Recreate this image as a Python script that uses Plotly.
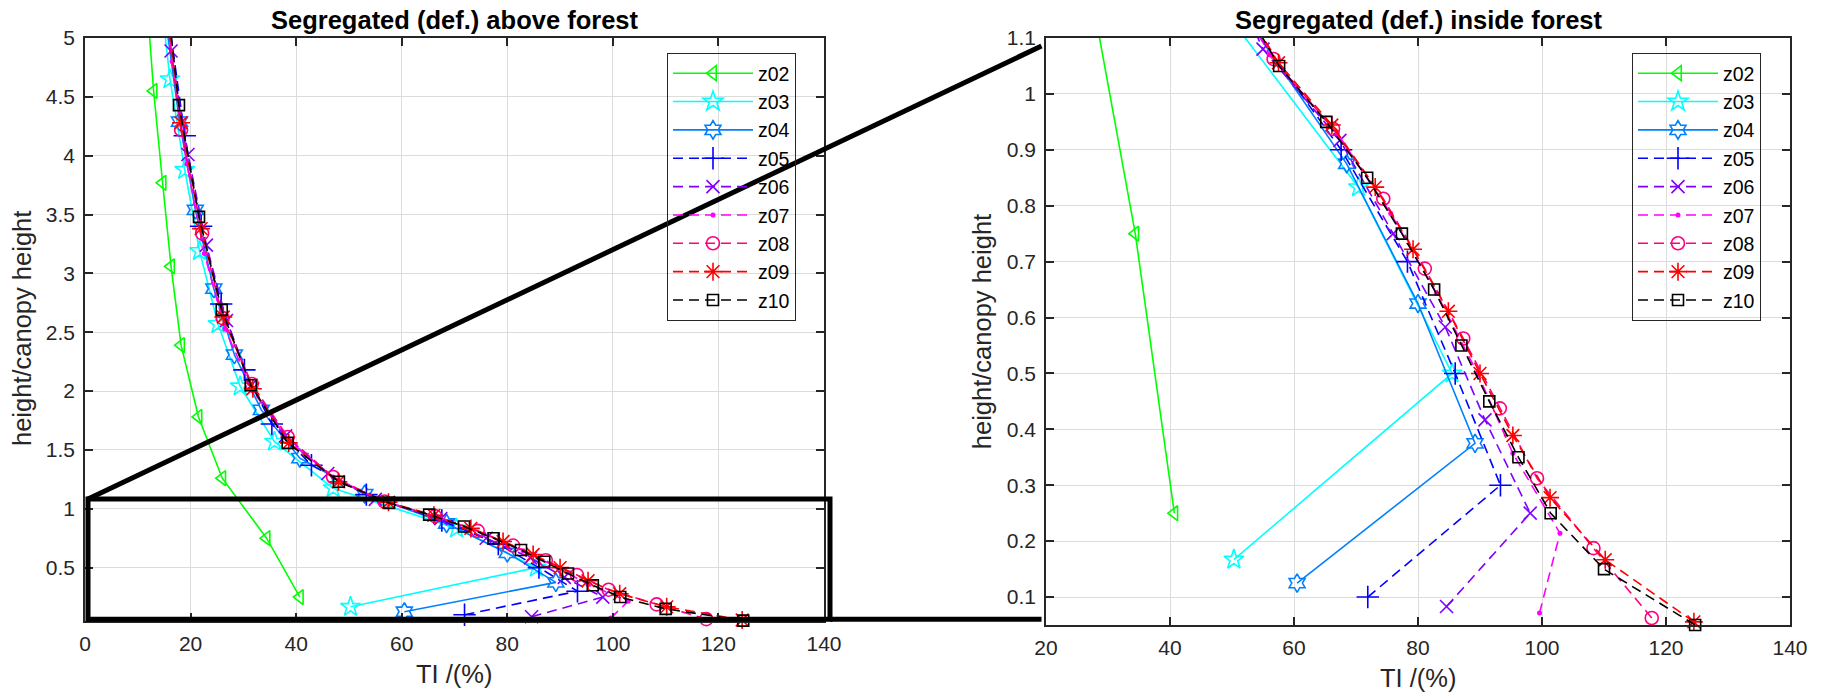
import plotly.graph_objects as go

# ---------------- data (TI in %, height / canopy height) ----------------
names = ["z02", "z03", "z04", "z05", "z06", "z07", "z08", "z09", "z10"]

h02 = [0.25, 0.75, 1.26, 1.78, 2.39, 3.06, 3.77, 4.55, 5.4]
ti02 = [40.7, 34.4, 26.0, 21.5, 18.2, 16.3, 14.7, 13.0, 11.6]

h03 = [0.167, 0.5, 0.833, 1.175, 1.57, 2.04, 2.57, 3.19, 3.88, 4.65, 5.5]
ti03 = [50.3, 85.5, 70.4, 47.0, 35.9, 29.4, 25.2, 21.7, 18.9, 16.1, 14.0]

h04 = [0.125, 0.375, 0.625, 0.875, 1.125, 1.43, 1.84, 2.31, 2.87, 3.54, 4.29, 5.15]
ti04 = [60.5, 89.2, 80.0, 68.5, 53.0, 40.7, 33.4, 28.3, 24.4, 20.9, 17.9, 15.3]

h05 = [0.1, 0.3, 0.5, 0.7, 0.9, 1.12, 1.37, 1.72, 2.18, 2.74, 3.40, 4.17, 5.05]
ti05 = [71.9, 93.3, 86.0, 78.3, 67.6, 53.3, 42.9, 35.4, 30.2, 25.8, 22.0, 18.9, 16.2]

h06 = [0.083, 0.25, 0.417, 0.583, 0.75, 0.917, 1.08, 1.30, 1.62, 2.05, 2.60, 3.24, 4.01, 4.89, 5.8]
ti06 = [84.6, 98.1, 90.8, 84.4, 76.0, 67.4, 55.0, 46.0, 38.0, 31.5, 26.8, 23.0, 19.5, 16.3, 14.2]

h07 = [0.0714, 0.214, 0.357, 0.5, 0.643, 0.786, 0.929, 1.07, 1.27, 1.58, 2.0, 2.53, 3.17, 3.93, 4.8, 5.8]
ti07 = [99.6, 102.9, 95.3, 89.6, 83.0, 75.6, 67.0, 56.0, 47.0, 38.6, 31.8, 26.5, 22.6, 19.3, 16.5, 14.3]

h08 = [0.0625, 0.1875, 0.3125, 0.4375, 0.5625, 0.6875, 0.8125, 0.9375, 1.0625, 1.27, 1.61, 2.06, 2.62, 3.34, 4.22, 5.25]
ti08 = [117.7, 108.3, 99.2, 93.2, 87.3, 81.1, 74.4, 66.3, 56.7, 47.0, 38.4, 31.6, 26.1, 22.2, 18.2, 15.3]

h09 = [0.0556, 0.1667, 0.2778, 0.3889, 0.5, 0.6111, 0.7222, 0.8333, 0.9444, 1.0556, 1.23, 1.56, 2.02, 2.63, 3.38, 4.28, 5.35]
ti09 = [124.5, 110.2, 101.3, 95.3, 90.0, 84.9, 79.2, 73.1, 66.1, 57.5, 48.0, 38.6, 31.8, 26.2, 22.0, 18.2, 15.3]

h10 = [0.05, 0.15, 0.25, 0.35, 0.45, 0.55, 0.65, 0.75, 0.85, 0.95, 1.05, 1.23, 1.56, 2.05, 2.69, 3.48, 4.43, 5.55]
ti10 = [124.7, 110.0, 101.4, 96.2, 91.5, 87.0, 82.6, 77.4, 71.8, 65.2, 57.6, 48.1, 38.4, 31.4, 25.9, 21.6, 17.8, 15.0]

heights = [h02, h03, h04, h05, h06, h07, h08, h09, h10]
tis = [ti02, ti03, ti04, ti05, ti06, ti07, ti08, ti09, ti10]

xticks_left = [0, 20, 40, 60, 80, 100, 120, 140]
yticks_left = [0.5, 1, 1.5, 2, 2.5, 3, 3.5, 4, 4.5, 5]
xticks_right = [20, 40, 60, 80, 100, 120, 140]
yticks_right = [0.1, 0.2, 0.3, 0.4, 0.5, 0.6, 0.7, 0.8, 0.9, 1, 1.1]

title_left = "Segregated (def.) above forest"
title_right = "Segregated (def.) inside forest"
xlabel = "TI /(%)"
ylabel = "height/canopy height"

# ---------------- styles ----------------
FONT = "Liberation Sans, Arial, Helvetica, sans-serif"
DASH = "10px,6px"
styles = {
    "z02": dict(color="#00FF00", symbol="triangle-left-open", size=13, dash="solid"),
    "z03": dict(color="#00FFFF", symbol="star-open", size=15, dash="solid"),
    "z04": dict(color="#0080FF", symbol="hexagram-open", size=14, dash="solid"),
    "z05": dict(color="#0000FF", symbol="cross-thin-open", size=16, dash=DASH),
    "z06": dict(color="#8000FF", symbol="x-thin-open", size=13, dash=DASH),
    "z07": dict(color="#FF00FF", symbol="circle", size=5, dash=DASH),
    "z08": dict(color="#FF0080", symbol="circle-open", size=13, dash=DASH),
    "z09": dict(color="#FF0000", symbol="asterisk-open", size=15, dash=DASH),
    "z10": dict(color="#000000", symbol="square-open", size=11, dash=DASH),
}

# layout expressed in page pixels (body margin removed by post script)
W, H = 1824, 698
ML, MT = 85, 38
MR = W - 1790
MB = H - 625
PW, PH = W - ML - MR, H - MT - MB


def px(x):
    return (x - ML) / PW


def py(y):
    return (H - MB - y) / PH


fig = go.Figure()
for name, ti, h in zip(names, tis, heights):
    st = styles[name]
    for xa, ya, leg in (("x", "y", "legend"), ("x2", "y2", "legend2")):
        fig.add_trace(go.Scatter(
            x=ti, y=h, xaxis=xa, yaxis=ya, legend=leg, name=name,
            mode="lines+markers", cliponaxis=False, hoverinfo="skip",
            line=dict(color=st["color"], width=1.6, dash=st["dash"]),
            marker=dict(symbol=st["symbol"], size=st["size"], color=st["color"],
                        line=dict(color=st["color"], width=0 if name == "z07" else 1.6)),
        ))

axis_common = dict(
    showline=True, linecolor="#262626", linewidth=1.5, mirror="ticks",
    ticks="inside", ticklen=8, tickwidth=1.5, tickcolor="#262626",
    showgrid=True, gridcolor="#dcdcdc", gridwidth=1.2, zeroline=False,
    tickfont=dict(family=FONT, size=21, color="#262626"),
)

leg_common = dict(xanchor="left", yanchor="top", bgcolor="rgba(0,0,0,0)",
                  bordercolor="#262626", borderwidth=1,
                  font=dict(family=FONT, size=19.5, color="black"), itemwidth=80)

fig.update_layout(
    width=W, height=H, margin=dict(l=ML, r=MR, t=MT, b=MB),
    paper_bgcolor="white", plot_bgcolor="white",
    font=dict(family=FONT, color="#262626"),
    xaxis=dict(domain=[0, px(824)], range=[0, 140], tickvals=xticks_left, anchor="y",
               ticklabelstandoff=3, **axis_common),
    yaxis=dict(domain=[py(620.6), 1], range=[0.05, 5], tickvals=yticks_left, anchor="x",
               ticklabelstandoff=4, **axis_common),
    xaxis2=dict(domain=[px(1046), 1], range=[20, 140], tickvals=xticks_right, anchor="y2",
                ticklabelstandoff=3, **axis_common),
    yaxis2=dict(domain=[0, 1], range=[0.05, 1.1], tickvals=yticks_right, anchor="x2",
                ticklabelstandoff=4, **axis_common),
    legend=dict(x=px(667), y=py(53), **leg_common),
    legend2=dict(x=px(1632), y=py(53), **leg_common),
    showlegend=True,
)

# white masks behind legends (above grid, below traces)
fig.add_shape(type="rect", xref="paper", yref="paper", layer="between",
              x0=px(667), x1=px(797), y0=py(314), y1=py(53),
              line=dict(width=0), fillcolor="white")

# titles and axis labels
TS = 25.5
ann = [
    (f"<b>{title_left}</b>", px(454.5), py(20), 0, "black"),
    (f"<b>{title_right}</b>", px(1418), py(20), 0, "black"),
    (xlabel, px(454.5), py(674), 0, "#262626"),
    (xlabel, px(1418), py(678), 0, "#262626"),
    (ylabel, px(22), py(329), -90, "#262626"),
    (ylabel, px(981.7), py(331.5), -90, "#262626"),
]
for txt, x, y, ang, col in ann:
    fig.add_annotation(text=txt, x=x, y=y, xref="paper", yref="paper",
                       xanchor="center", yanchor="middle", showarrow=False,
                       font=dict(family=FONT, size=TS, color=col), textangle=ang)

# zoom-box decoration (thick black lines)
LW = 5
fig.add_shape(type="rect", xref="paper", yref="paper", layer="above",
              x0=px(88), x1=px(830), y0=py(619.3), y1=py(499),
              line=dict(color="black", width=LW), fillcolor="rgba(0,0,0,0)")
fig.add_shape(type="line", xref="paper", yref="paper", layer="above",
              x0=px(88), y0=py(499), x1=px(1041.5), y1=py(46),
              line=dict(color="black", width=LW))
fig.add_shape(type="line", xref="paper", yref="paper", layer="above",
              x0=px(830), y0=py(619.3), x1=px(1041.5), y1=py(619.3),
              line=dict(color="black", width=LW))

fig.write_html("out.html", config={"displayModeBar": False},
               post_script="document.body.style.margin='0';document.body.style.overflow='hidden';")
